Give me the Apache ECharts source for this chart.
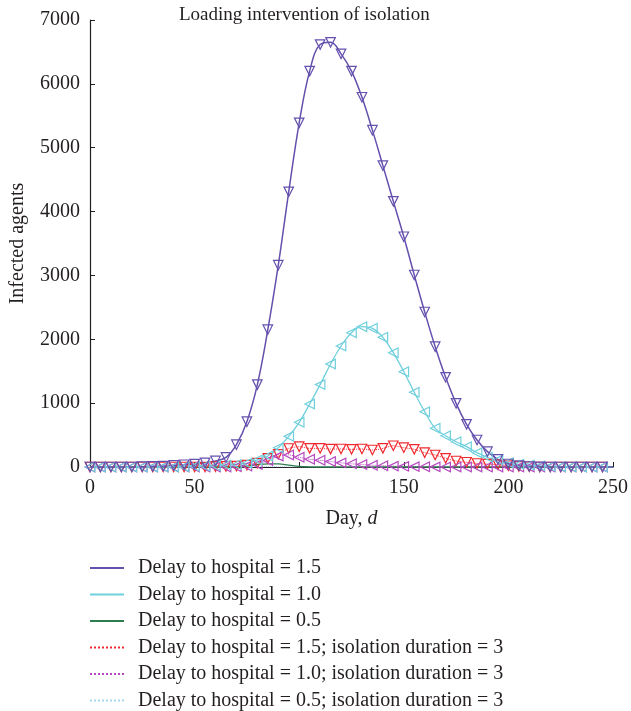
<!DOCTYPE html>
<html>
<head>
<meta charset="utf-8">
<script src="https://cdn.jsdelivr.net/npm/echarts@6/dist/echarts.min.js"></script>
<style>
  html, body { margin: 0; padding: 0; background: #fff; }
  #chart { width: 631px; height: 711px; }
</style>
</head>
<body>
<div id="chart"></div>
<script>
// days sampled every 5
var days = [];
for (var d = 0; d <= 245; d += 5) days.push(d);

// values
var delay15 = [0, 0, 0, 0, 0, 5, 10, 15, 25, 35, 45, 65, 95, 150, 350, 710, 1290, 2150, 3160, 4310,
  5390, 6200, 6615, 6650, 6470, 6200, 5790, 5275, 4720, 4160, 3606, 3007, 2427, 1884, 1405, 997, 668, 423, 240, 120,
  47, 20, 8, 3, 0, 0, 0, 0, 0, 0];
var delay10 = [0, 0, 0, 0, 0, 0, 0, 0, 0, 5, 10, 15, 20, 30, 40, 58, 110, 172, 302, 480,
  700, 986, 1290, 1613, 1895, 2103, 2197, 2172, 2031, 1790, 1492, 1170, 866, 606, 490, 396, 318, 224, 152, 110,
  67, 42, 30, 18, 10, 5, 2, 0, 0, 0];
var delay05 = [0, 0, 0, 0, 0, 0, 0, 0, 0, 0, 0, 0, 0, 0, 5, 15, 35, 48, 48, 30,
  10, 3, 0, 0, 0, 0, 0, 0, 0, 0, 0, 0, 0, 0, 0, 0, 0, 0, 0, 0,
  0, 0, 0, 0, 0, 0, 0, 0, 0, 0];
var iso15 = [0, 0, 0, 0, 0, 0, 0, 0, 0, 0, 0, 0, 5, 10, 15, 30, 60, 135, 200, 290,
  318, 292, 292, 280, 282, 277, 282, 266, 292, 333, 302, 277, 224, 188, 136, 94, 74, 55, 45, 35,
  20, 10, 5, 0, 0, 0, 0, 0, 0, 0];
var iso10 = [0, 0, 0, 0, 0, 0, 0, 0, 0, 0, 0, 0, 0, 0, 5, 15, 40, 100, 170, 188,
  152, 120, 105, 85, 65, 50, 38, 28, 20, 14, 10, 6, 4, 2, 0, 0, 0, 0, 0, 0,
  0, 0, 0, 0, 0, 0, 0, 0, 0, 0];
var iso05 = [0, 0, 0, 0, 0, 0, 0, 0, 0, 0, 0, 0, 0, 0, 0, 0, 5, 8, 6, 3,
  0, 0, 0, 0, 0, 0, 0, 0, 0, 0, 0, 0, 0, 0, 0, 0, 0, 0, 0, 0,
  0, 0, 0, 0, 0, 0, 0, 0, 0, 0];

var names = [
  "Delay to hospital = 1.5",
  "Delay to hospital = 1.0",
  "Delay to hospital = 0.5",
  "Delay to hospital = 1.5; isolation duration = 3",
  "Delay to hospital = 1.0; isolation duration = 3",
  "Delay to hospital = 0.5; isolation duration = 3"
];

var font = "Liberation Serif, DejaVu Serif, serif";
var ink = "#231f20";

function pairs(vals) {
  var out = days.map(function (x, i) { return [x, vals[i]]; });
  out.push({ value: [250, 0], symbol: "none" });
  return out;
}

function makeSeries(name, vals, color, lineType, width, symbol, rotate, smooth) {
  return {
    name: name,
    type: "line",
    data: pairs(vals),
    smooth: smooth,
    symbol: symbol,
    symbolSize: 9.5,
    symbolRotate: rotate,
    showSymbol: symbol !== "none",
    lineStyle: { color: color, width: width, type: lineType },
    itemStyle: { color: "rgba(255,255,255,0)", borderColor: color, borderWidth: 1.2 },
    emphasis: { disabled: true },
    animation: false
  };
}

var myChart = echarts.init(document.getElementById("chart"));
var option = {
  backgroundColor: "#fff",
  title: {
    text: "Loading intervention of isolation",
    left: 174,
    top: 1,
    textStyle: { fontFamily: font, fontSize: 19, fontWeight: "normal", color: ink }
  },
  grid: { left: 89, right: 15, top: 20, bottom: 244 },
  legend: {
    orient: "vertical",
    left: 84,
    top: 553,
    height: 160,
    itemWidth: 34,
    itemHeight: 10,
    itemGap: 6.5,
    itemStyle: { opacity: 0 },
    textStyle: { fontFamily: font, fontSize: 20, lineHeight: 20, color: ink, padding: [0, 0, 0, 9] },
    data: names
  },
  xAxis: {
    type: "value",
    min: 0,
    max: 250,
    interval: 50,
    name: "{n|Day, }{i|d}",
    nameLocation: "middle",
    nameGap: 42,
    nameTextStyle: {
      rich: {
        n: { fontFamily: font, fontSize: 20, color: ink },
        i: { fontFamily: font, fontSize: 20, color: ink, fontStyle: "italic" }
      }
    },
    axisLine: { lineStyle: { color: ink, width: 1.2 } },
    axisTick: { inside: true, length: 5, lineStyle: { color: ink } },
    axisLabel: { fontFamily: font, fontSize: 20, color: ink, margin: 11 },
    splitLine: { show: false }
  },
  yAxis: {
    type: "value",
    min: 0,
    max: 7000,
    interval: 1000,
    name: "Infected agents",
    nameLocation: "middle",
    nameGap: 62,
    nameTextStyle: { fontFamily: font, fontSize: 20, color: ink },
    axisLine: { show: true, lineStyle: { color: ink, width: 1.2 } },
    axisTick: { show: true, inside: true, length: 5, lineStyle: { color: ink } },
    axisLabel: {
      fontFamily: font, fontSize: 20, color: ink, margin: 10,
      formatter: function (v) { return String(v); }
    },
    splitLine: { show: false }
  },
  series: [
    makeSeries(names[3], iso15, "#f0282d", "dotted", 1, "triangle", 180, 0.3),
    makeSeries(names[4], iso10, "#b548bf", "dotted", 1, "triangle", 90, 0.3),
    makeSeries(names[5], iso05, "#a9d8ee", "dotted", 1, "none", 0, 0.3),
    makeSeries(names[2], delay05, "#2e7d4f", "solid", 1.3, "none", 0, 0.4),
    makeSeries(names[1], delay10, "#6fcfdc", "solid", 1.3, "triangle", 90, 0.4),
    makeSeries(names[0], delay15, "#6550ad", "solid", 1.5, "triangle", 180, 0.4)
  ]
};
myChart.setOption(option);
</script>
</body>
</html>
